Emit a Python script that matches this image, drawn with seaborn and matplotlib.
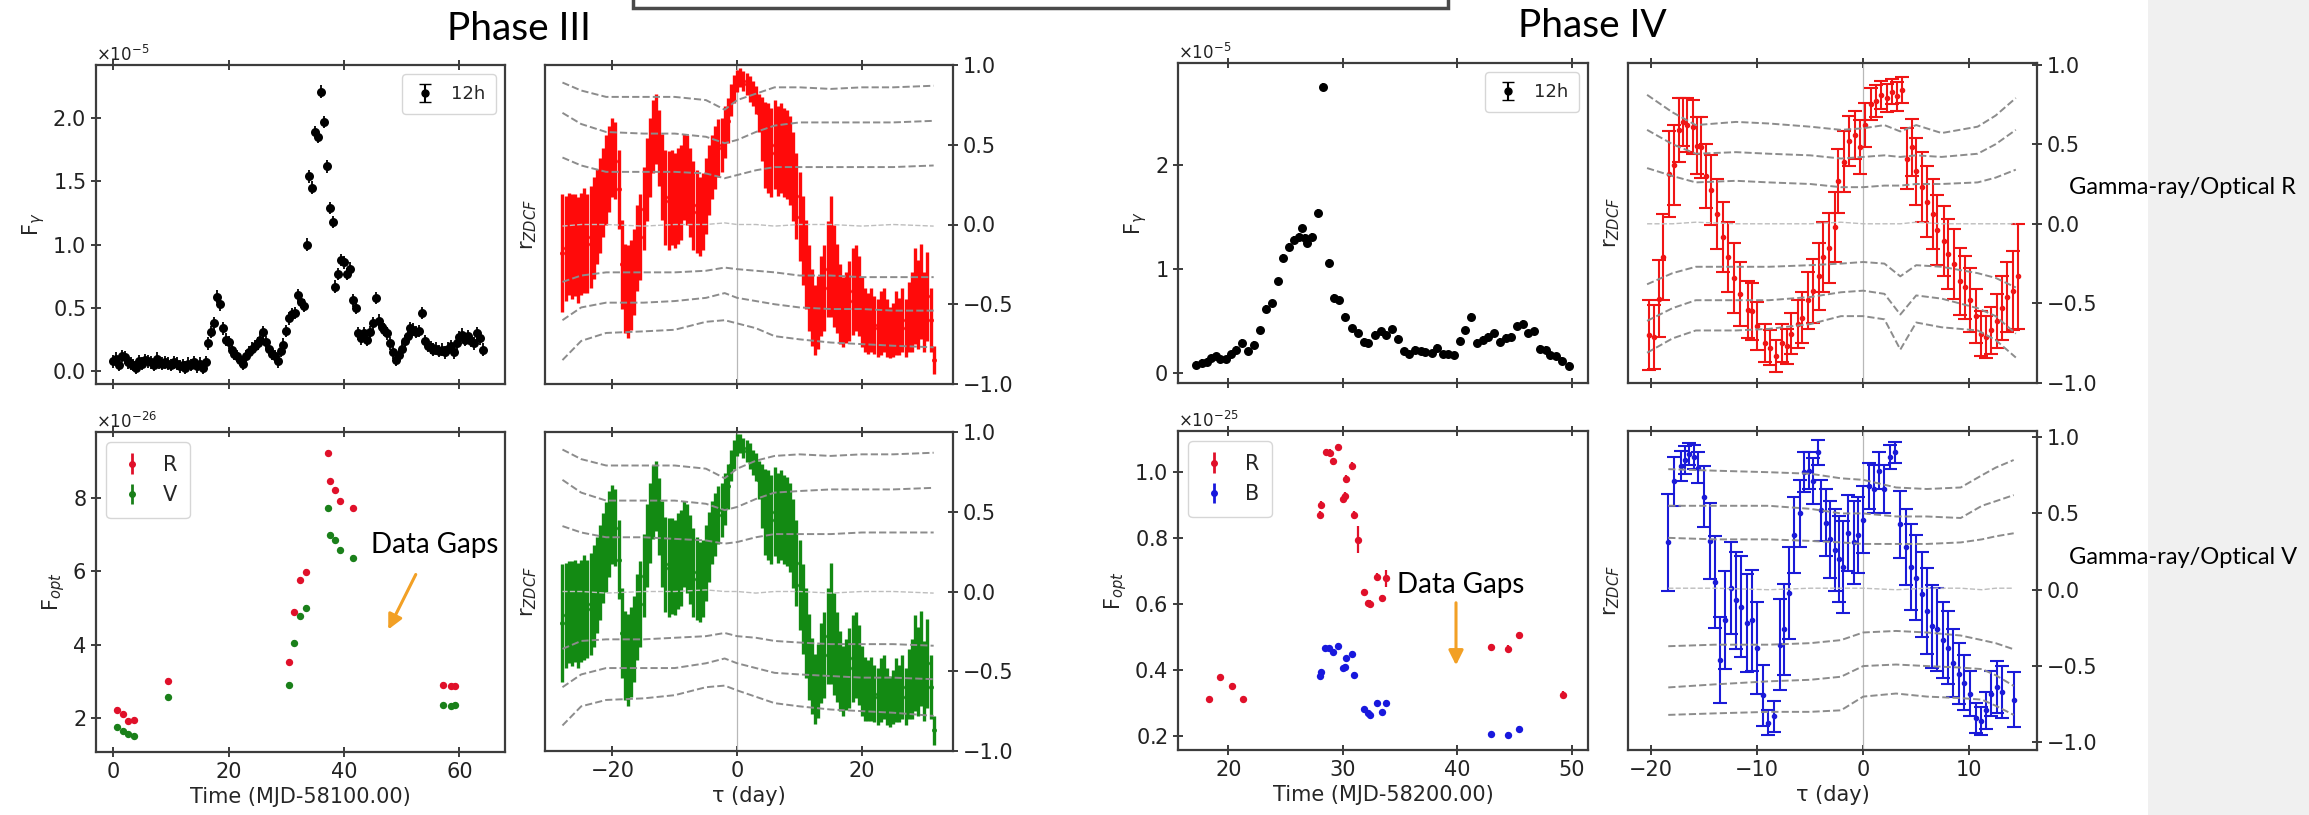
import numpy as np
import matplotlib.pyplot as plt
import seaborn as sns
from matplotlib.patches import Rectangle, FancyArrowPatch
from matplotlib.ticker import MultipleLocator, ScalarFormatter

# ---------------- Phase III : gamma-ray light curve (12h bins, x1e-5)
gam3_t = [0.0, 0.5, 1.0, 1.5, 2.0, 2.5, 3.0, 3.5, 4.0, 4.5, 5.0, 5.5, 6.0, 6.5, 7.0, 7.5,
          8.0, 8.5, 9.0, 9.5, 10.0, 10.5, 11.0, 11.5, 12.0, 12.5, 13.0, 13.5, 14.0, 14.5,
          15.0, 15.5, 16.0, 16.5, 17.0, 17.5, 18.0, 18.5, 19.0, 19.5, 20.0, 20.5, 21.0,
          21.5, 22.0, 22.5, 23.0, 23.5, 24.0, 24.5, 25.0, 25.5, 26.0, 26.5, 27.0, 27.5,
          28.0, 28.5, 29.0, 29.5, 30.0, 30.5, 31.0, 31.5, 32.0, 32.5, 33.0, 33.5, 34.0,
          34.5, 35.0, 35.5, 36.0, 36.5, 37.0, 37.5, 38.0, 38.5, 39.0, 39.5, 40.0, 40.5,
          41.0, 41.5, 42.0, 42.5, 43.0, 43.5, 44.0, 44.5, 45.0, 45.5, 46.0, 46.5, 47.0,
          47.5, 48.0, 48.5, 49.0, 49.5, 50.0, 50.5, 51.0, 51.5, 52.0, 52.5, 53.0, 53.5,
          54.0, 54.5, 55.0, 55.5, 56.0, 56.5, 57.0, 57.5, 58.0, 58.5, 59.0, 59.5, 60.0,
          60.5, 61.0, 61.5, 62.0, 62.5, 63.0, 63.5, 64.0]
gam3_f = [0.08, 0.10, 0.05, 0.12, 0.11, 0.07, 0.06, 0.05, 0.03,
          0.08, 0.06, 0.09, 0.08, 0.07, 0.05, 0.10, 0.07,
          0.06, 0.07, 0.06, 0.05, 0.07, 0.06, 0.04, 0.05,
          0.03, 0.06, 0.05, 0.07, 0.04, 0.06, 0.03, 0.07,
          0.22, 0.31, 0.38, 0.59, 0.53, 0.34, 0.25, 0.23,
          0.17, 0.14, 0.12, 0.09, 0.06, 0.12, 0.15, 0.18,
          0.20, 0.22, 0.25, 0.31, 0.23, 0.18, 0.14, 0.12,
          0.08, 0.16, 0.21, 0.32, 0.42, 0.45, 0.46, 0.60,
          0.55, 0.52, 1.00, 1.54, 1.45, 1.89, 1.85, 2.21,
          1.97, 1.62, 1.29, 1.18, 0.67, 0.77, 0.88, 0.86,
          0.77, 0.81, 0.56, 0.50, 0.30, 0.26, 0.30, 0.25,
          0.31, 0.38, 0.58, 0.40, 0.35, 0.33, 0.30, 0.22,
          0.15, 0.09, 0.13, 0.18, 0.24, 0.28, 0.34, 0.33,
          0.31, 0.32, 0.46, 0.24, 0.20, 0.19, 0.17, 0.18,
          0.16, 0.17, 0.15, 0.18, 0.20, 0.15, 0.22, 0.27,
          0.29, 0.25, 0.28, 0.24, 0.22, 0.30, 0.26, 0.17]
gam3_err = 0.05

# ---------------- Phase III : optical R and V (x1e-26)
opt3_t = [0.6, 1.6, 2.6, 3.6, 9.5, 30.4, 31.4, 32.4, 33.4, 37.2, 37.5, 38.4, 39.3, 41.5, 57.2, 58.5, 59.2]
opt3_r = [2.21, 2.12, 1.91, 1.94, 3.02, 3.52, 4.89, 5.77, 5.97, 9.23, 8.45, 8.21, 7.91, 7.73, 2.91, 2.88, 2.88]
opt3_v = [1.75, 1.64, 1.55, 1.50, 2.56, 2.89, 4.05, 4.79, 5.00, 7.73, 7.00, 6.86, 6.57, 6.36, 2.34, 2.32, 2.36]
opt3_err = 0.08

# ---------------- Phase III : ZDCF gamma / optical R and V
zdcf3_tau = [-28.0, -27.5, -27.0, -26.5, -26.0, -25.5, -25.0, -24.5, -24.0, -23.5,
             -23.0, -22.5, -22.0, -21.5, -21.0, -20.5, -20.0, -19.5, -19.0, -18.5,
             -18.0, -17.5, -17.0, -16.5, -16.0, -15.5, -15.0, -14.5, -14.0, -13.5,
             -13.0, -12.5, -12.0, -11.5, -11.0, -10.5, -10.0, -9.5, -9.0, -8.5,
             -8.0, -7.5, -7.0, -6.5, -6.0, -5.5, -5.0, -4.5, -4.0, -3.5,
             -3.0, -2.5, -2.0, -1.5, -1.0, -0.5, 0.0, 0.5, 1.0, 1.5,
             2.0, 2.5, 3.0, 3.5, 4.0, 4.5, 5.0, 5.5, 6.0, 6.5,
             7.0, 7.5, 8.0, 8.5, 9.0, 9.5, 10.0, 10.5, 11.0, 11.5,
             12.0, 12.5, 13.0, 13.5, 14.0, 14.5, 15.0, 15.5, 16.0, 16.5,
             17.0, 17.5, 18.0, 18.5, 19.0, 19.5, 20.0, 20.5, 21.0, 21.5,
             22.0, 22.5, 23.0, 23.5, 24.0, 24.5, 25.0, 25.5, 26.0, 26.5,
             27.0, 27.5, 28.0, 28.5, 29.0, 29.5, 30.0, 30.5, 31.0, 31.5]
zdcf3r_r = [-0.18, -0.15, -0.12, -0.14, -0.13, -0.16, -0.12, -0.10, -0.12, -0.08,
            -0.02, 0.05, 0.12, 0.20, 0.28, 0.35, 0.42, 0.40, 0.22, -0.25,
            -0.40, -0.42, -0.38, -0.30, -0.15, -0.08, 0.10, 0.28, 0.42, 0.55,
            0.60, 0.48, 0.30, 0.17, 0.15, 0.17, 0.15, 0.18, 0.20, 0.30,
            0.28, 0.20, 0.12, 0.08, 0.05, 0.08, 0.18, 0.28, 0.36, 0.42,
            0.48, 0.50, 0.58, 0.65, 0.78, 0.85, 0.90, 0.92, 0.90, 0.88,
            0.85, 0.82, 0.78, 0.70, 0.60, 0.50, 0.48, 0.45, 0.50, 0.46,
            0.48, 0.45, 0.44, 0.40, 0.30, 0.18, 0.05, -0.10, -0.25, -0.40,
            -0.52, -0.60, -0.55, -0.45, -0.40, -0.28, -0.20, -0.32, -0.40, -0.50,
            -0.55, -0.52, -0.48, -0.42, -0.40, -0.45, -0.55, -0.60, -0.62, -0.60,
            -0.63, -0.65, -0.62, -0.60, -0.65, -0.68, -0.66, -0.62, -0.64, -0.60,
            -0.65, -0.58, -0.55, -0.45, -0.50, -0.42, -0.55, -0.45, -0.60, -0.85]
zdcf3r_err = [0.37, 0.33, 0.32, 0.33, 0.32, 0.33, 0.32, 0.33, 0.31, 0.32,
              0.32, 0.30, 0.30, 0.28, 0.28, 0.27, 0.25, 0.24, 0.25, 0.28,
              0.28, 0.29, 0.28, 0.27, 0.27, 0.27, 0.26, 0.26, 0.25, 0.23,
              0.22, 0.24, 0.27, 0.30, 0.31, 0.30, 0.30, 0.30, 0.30, 0.27,
              0.28, 0.28, 0.28, 0.26, 0.25, 0.24, 0.24, 0.22, 0.20, 0.20,
              0.18, 0.17, 0.16, 0.14, 0.10, 0.09, 0.07, 0.06, 0.06, 0.07,
              0.08, 0.08, 0.09, 0.12, 0.20, 0.27, 0.28, 0.28, 0.28, 0.28,
              0.28, 0.28, 0.28, 0.28, 0.28, 0.27, 0.28, 0.28, 0.28, 0.27,
              0.24, 0.22, 0.23, 0.25, 0.27, 0.30, 0.38, 0.32, 0.28, 0.25,
              0.22, 0.22, 0.25, 0.27, 0.27, 0.25, 0.22, 0.20, 0.19, 0.20,
              0.18, 0.18, 0.20, 0.20, 0.18, 0.16, 0.17, 0.20, 0.18, 0.20,
              0.18, 0.22, 0.25, 0.30, 0.28, 0.30, 0.25, 0.28, 0.20, 0.09]
zdcf3v_r = [-0.20, -0.15, -0.13, -0.14, -0.12, -0.15, -0.12, -0.10, -0.11, -0.08,
            -0.03, 0.04, 0.12, 0.21, 0.28, 0.36, 0.42, 0.40, 0.20, -0.26,
            -0.40, -0.43, -0.38, -0.30, -0.16, -0.08, 0.10, 0.29, 0.43, 0.56,
            0.60, 0.47, 0.30, 0.17, 0.15, 0.16, 0.15, 0.19, 0.21, 0.30,
            0.27, 0.20, 0.12, 0.08, 0.06, 0.08, 0.18, 0.28, 0.37, 0.42,
            0.48, 0.51, 0.58, 0.66, 0.79, 0.86, 0.92, 0.93, 0.90, 0.88,
            0.85, 0.81, 0.78, 0.70, 0.60, 0.50, 0.48, 0.45, 0.50, 0.46,
            0.48, 0.45, 0.44, 0.40, 0.30, 0.18, 0.04, -0.11, -0.26, -0.41,
            -0.53, -0.61, -0.56, -0.45, -0.40, -0.28, -0.20, -0.33, -0.41, -0.50,
            -0.56, -0.52, -0.48, -0.42, -0.40, -0.46, -0.56, -0.61, -0.62, -0.61,
            -0.64, -0.66, -0.62, -0.60, -0.66, -0.69, -0.66, -0.62, -0.64, -0.60,
            -0.66, -0.58, -0.55, -0.45, -0.50, -0.42, -0.56, -0.45, -0.60, -0.87]
zdcf3v_err = zdcf3r_err

# significance levels (dashed grey curves)
sig3_tau = [-28, -25, -21, -15, -10, -5, -2, 0, 3, 6, 10, 15, 20, 25, 31.5]
sig3r_levels = [
    [0.89, 0.84, 0.80, 0.80, 0.80, 0.78, 0.72, 0.78, 0.82, 0.86, 0.86, 0.85, 0.86, 0.86, 0.87],
    [0.70, 0.63, 0.58, 0.57, 0.57, 0.55, 0.51, 0.53, 0.58, 0.62, 0.64, 0.64, 0.64, 0.64, 0.65],
    [0.42, 0.37, 0.33, 0.33, 0.33, 0.32, 0.29, 0.31, 0.34, 0.36, 0.36, 0.36, 0.36, 0.36, 0.37],
    [-0.01, 0.0, 0.0, -0.01, 0.0, 0.0, 0.01, 0.0, 0.0, -0.01, 0.0, 0.0, -0.01, 0.0, -0.01],
    [-0.36, -0.32, -0.30, -0.30, -0.30, -0.29, -0.27, -0.28, -0.29, -0.30, -0.32, -0.32, -0.33, -0.33, -0.33],
    [-0.60, -0.52, -0.49, -0.49, -0.48, -0.46, -0.43, -0.46, -0.48, -0.50, -0.52, -0.53, -0.53, -0.54, -0.54],
    [-0.85, -0.73, -0.68, -0.67, -0.66, -0.61, -0.60, -0.62, -0.65, -0.70, -0.72, -0.74, -0.75, -0.76, -0.77]]
sig3v_levels = [
    [0.89, 0.83, 0.79, 0.79, 0.79, 0.77, 0.71, 0.77, 0.82, 0.85, 0.86, 0.85, 0.86, 0.86, 0.87],
    [0.70, 0.62, 0.57, 0.57, 0.57, 0.55, 0.51, 0.53, 0.58, 0.62, 0.63, 0.64, 0.64, 0.64, 0.65],
    [0.41, 0.37, 0.34, 0.34, 0.33, 0.32, 0.30, 0.31, 0.34, 0.36, 0.36, 0.36, 0.37, 0.37, 0.37],
    [0.0, 0.0, -0.01, 0.0, 0.0, 0.01, 0.0, 0.0, -0.01, 0.0, 0.0, -0.01, 0.0, 0.0, -0.01],
    [-0.36, -0.31, -0.30, -0.30, -0.29, -0.28, -0.26, -0.28, -0.29, -0.31, -0.32, -0.33, -0.33, -0.33, -0.34],
    [-0.60, -0.52, -0.48, -0.48, -0.48, -0.45, -0.42, -0.45, -0.48, -0.51, -0.52, -0.53, -0.54, -0.54, -0.55],
    [-0.84, -0.72, -0.68, -0.67, -0.65, -0.60, -0.59, -0.62, -0.66, -0.70, -0.72, -0.74, -0.75, -0.76, -0.78]]

# ---------------- Phase IV : gamma-ray light curve (12h bins, x1e-5)
gam4_t = [17.2, 17.7, 18.1, 18.5, 18.9, 19.3, 19.8, 20.2, 20.7, 21.2, 21.7, 22.2, 22.8,
          23.3, 23.8, 24.3, 24.8, 25.3, 25.7, 26.2, 26.4, 26.7, 26.9, 27.3, 27.8, 28.3,
          28.8, 29.2, 29.7, 30.2, 30.8, 31.3, 31.8, 32.2, 32.8, 33.3, 33.8, 34.3, 34.8,
          35.3, 35.8, 36.3, 36.8, 37.2, 37.8, 38.2, 38.7, 39.2, 39.7, 40.2, 40.7, 41.2,
          41.7, 42.2, 42.7, 43.2, 43.7, 44.2, 44.7, 45.2, 45.7, 46.2, 46.7, 47.2, 47.7,
          48.1, 48.6, 49.1, 49.7]
gam4_f = [0.08, 0.10, 0.11, 0.14, 0.16, 0.13, 0.13, 0.18, 0.22, 0.29, 0.21, 0.27, 0.41,
          0.62, 0.67, 0.88, 1.11, 1.21, 1.28, 1.31, 1.39, 1.30, 1.25, 1.31, 1.54, 2.75,
          1.06, 0.72, 0.70, 0.54, 0.43, 0.38, 0.30, 0.29, 0.37, 0.40, 0.37, 0.42, 0.33,
          0.21, 0.18, 0.22, 0.21, 0.20, 0.19, 0.24, 0.18, 0.18, 0.17, 0.31, 0.41, 0.54,
          0.29, 0.32, 0.35, 0.38, 0.30, 0.34, 0.35, 0.45, 0.47, 0.38, 0.40, 0.23, 0.22,
          0.17, 0.16, 0.12, 0.07]
gam4_err = 0.035

# ---------------- Phase IV : optical R and B (x1e-25)
opt4r_t = [18.3, 19.3, 20.3, 21.3, 28.0, 28.1, 28.5, 28.9, 29.1, 29.6, 30.0, 30.2, 30.3,
           30.8, 31.0, 31.3, 31.8, 32.2, 32.4, 33.0, 33.4, 33.8, 42.9, 44.4, 45.4, 49.2]
opt4r_f = [0.311, 0.378, 0.352, 0.311, 0.871, 0.901, 1.060, 1.058, 1.032, 1.075, 0.919,
           0.926, 0.980, 1.017, 0.869, 0.795, 0.636, 0.603, 0.601, 0.683, 0.618, 0.678,
           0.470, 0.465, 0.505, 0.326]
opt4r_err = [0.008, 0.008, 0.008, 0.008, 0.01, 0.01, 0.01, 0.01, 0.01, 0.01, 0.012, 0.012,
             0.012, 0.012, 0.012, 0.04, 0.01, 0.01, 0.01, 0.01, 0.01, 0.025, 0.01, 0.01,
             0.01, 0.01]
opt4b_t = [28.0, 28.1, 28.4, 28.8, 29.1, 29.6, 30.0, 30.2, 30.3, 30.8, 31.0, 31.8, 32.2,
           32.4, 33.0, 33.4, 33.8, 42.9, 44.4, 45.4]
opt4b_f = [0.382, 0.395, 0.466, 0.466, 0.456, 0.474, 0.405, 0.410, 0.436, 0.449, 0.385,
           0.281, 0.269, 0.264, 0.301, 0.272, 0.301, 0.205, 0.203, 0.223]
opt4b_err = 0.008

# ---------------- Phase IV : ZDCF gamma / optical R
zdcf4r_tau = [-20.2, -19.7, -19.3, -18.9, -18.3, -17.9, -17.4, -17.0, -16.6, -16.1, -15.7,
              -15.3, -14.8, -14.4, -13.8, -13.2, -12.8, -12.2, -11.6, -10.9, -10.5, -10.0,
              -9.3, -8.8, -8.2, -7.7, -7.2, -6.8, -6.2, -5.8, -5.2, -4.7, -4.2, -3.8, -3.2,
              -2.7, -2.4, -1.8, -1.3, -0.8, -0.3, 0.2, 0.7, 1.2, 1.7, 2.2, 2.7, 3.2, 3.7,
              4.1, 4.6, 5.0, 5.5, 6.0, 6.6, 7.0, 7.6, 8.0, 8.6, 9.1, 9.6, 10.1, 10.6, 11.1,
              11.6, 12.1, 12.6, 13.1, 13.6, 14.1, 14.6]
zdcf4r_r = [-0.70, -0.71, -0.47, -0.21, 0.31, 0.37, 0.59, 0.64, 0.62, 0.61, 0.49,
            0.48, 0.30, 0.21, 0.06, -0.08, -0.21, -0.34, -0.44, -0.54, -0.55, -0.64,
            -0.75, -0.78, -0.83, -0.75, -0.77, -0.69, -0.63, -0.59, -0.48, -0.42, -0.33,
            -0.21, -0.15, -0.02, 0.27, 0.39, 0.52, 0.56, 0.48, 0.62, 0.75, 0.77, 0.81,
            0.79, 0.83, 0.80, 0.84, 0.41, 0.48, 0.33, 0.23, 0.14, 0.06, -0.04, -0.11,
            -0.19, -0.25, -0.36, -0.40, -0.48, -0.58, -0.69, -0.71, -0.67, -0.61, -0.53,
            -0.46, -0.42, -0.33]
zdcf4r_err = [0.22, 0.20, 0.24, 0.27, 0.27, 0.25, 0.20, 0.15, 0.17, 0.17, 0.18,
              0.19, 0.20, 0.22, 0.22, 0.22, 0.22, 0.22, 0.20, 0.18, 0.18, 0.15,
              0.12, 0.11, 0.10, 0.12, 0.11, 0.13, 0.15, 0.16, 0.18, 0.20, 0.21,
              0.22, 0.22, 0.22, 0.20, 0.19, 0.16, 0.15, 0.17, 0.14, 0.10, 0.10, 0.09,
              0.09, 0.08, 0.09, 0.08, 0.19, 0.18, 0.21, 0.22, 0.22, 0.22, 0.22, 0.22,
              0.22, 0.22, 0.21, 0.20, 0.20, 0.17, 0.14, 0.13, 0.15, 0.17, 0.20,
              0.22, 0.25, 0.33]
sig4r_tau = [-20.4, -18.0, -15.8, -12.0, -8.9, -5.0, -2.1, 0.0, 2.0, 3.5, 5.0, 7.4, 10.8, 12.5, 14.4]
sig4r_levels = [
    [0.81, 0.70, 0.62, 0.64, 0.63, 0.61, 0.59, 0.60, 0.62, 0.58, 0.62, 0.57, 0.61, 0.68, 0.79],
    [0.59, 0.50, 0.44, 0.45, 0.44, 0.43, 0.41, 0.42, 0.43, 0.42, 0.43, 0.42, 0.44, 0.50, 0.59],
    [0.35, 0.30, 0.26, 0.27, 0.26, 0.25, 0.23, 0.23, 0.24, 0.24, 0.25, 0.25, 0.26, 0.29, 0.34],
    [0.0, 0.0, 0.01, 0.0, 0.0, 0.0, 0.01, 0.0, 0.0, 0.0, 0.01, 0.0, 0.0, 0.0, 0.0],
    [-0.38, -0.31, -0.27, -0.27, -0.27, -0.26, -0.25, -0.24, -0.25, -0.33, -0.26, -0.27, -0.31, -0.34, -0.40],
    [-0.61, -0.53, -0.48, -0.48, -0.48, -0.46, -0.43, -0.42, -0.44, -0.57, -0.45, -0.47, -0.53, -0.58, -0.69],
    [-0.81, -0.72, -0.67, -0.67, -0.66, -0.63, -0.58, -0.58, -0.60, -0.79, -0.62, -0.65, -0.67, -0.73, -0.84]]

# ---------------- Phase IV : ZDCF gamma / optical B
zdcf4b_tau = [-18.4, -17.9, -17.2, -16.8, -16.4, -16.0, -15.6, -15.0, -14.5, -14.0, -13.5,
              -13.0, -12.5, -12.0, -11.5, -11.0, -10.5, -10.0, -9.5, -9.0, -8.4, -7.9,
              -7.5, -7.0, -6.5, -6.0, -5.6, -5.1, -4.7, -4.3, -4.0, -3.5, -3.1, -2.7, -2.3,
              -1.9, -1.4, -0.9, -0.5, 0.0, 0.5, 1.0, 1.5, 2.0, 2.5, 3.0, 3.5, 4.0, 4.5,
              5.0, 5.5, 6.0, 6.5, 7.0, 7.5, 8.0, 8.5, 9.0, 9.5, 10.1, 10.6, 11.1, 11.6,
              12.1, 12.6, 13.1, 14.2]
zdcf4b_r = [0.31, 0.71, 0.81, 0.85, 0.89, 0.87, 0.80, 0.61, 0.32, 0.05, -0.46,
            -0.20, 0.01, -0.07, -0.11, -0.22, -0.20, -0.38, -0.69, -0.87, -0.83, -0.36,
            -0.26, -0.02, 0.36, 0.50, 0.77, 0.78, 0.71, 0.90, 0.52, 0.44, 0.33, 0.26, 0.20,
            0.15, 0.37, 0.31, 0.36, 0.46, 0.68, 0.66, 0.78, 0.66, 0.87, 0.90, 0.43, 0.28, 0.15,
            0.08, -0.03, -0.14, -0.24, -0.26, -0.33, -0.38, -0.48, -0.55, -0.61, -0.68, -0.84,
            -0.86, -0.79, -0.68, -0.64, -0.67, -0.72]
zdcf4b_err = [0.32, 0.16, 0.10, 0.09, 0.07, 0.08, 0.10, 0.20, 0.25, 0.30, 0.28,
              0.32, 0.30, 0.32, 0.33, 0.32, 0.33, 0.30, 0.20, 0.08, 0.10, 0.30,
              0.30, 0.30, 0.25, 0.22, 0.13, 0.12, 0.15, 0.08, 0.20, 0.22, 0.25, 0.27, 0.28,
              0.30, 0.25, 0.27, 0.25, 0.22, 0.15, 0.16, 0.12, 0.16, 0.08, 0.07, 0.22, 0.25,
              0.28, 0.28, 0.28, 0.28, 0.27, 0.27, 0.25, 0.24, 0.22, 0.20, 0.18, 0.15, 0.10,
              0.09, 0.12, 0.15, 0.17, 0.17, 0.18]
sig4b_tau = [-18.4, -14.0, -8.9, -5.0, -2.1, 0.0, 3.1, 6.0, 9.2, 11.2, 12.5, 14.2]
sig4b_levels = [
    [0.79, 0.78, 0.77, 0.76, 0.73, 0.72, 0.67, 0.66, 0.67, 0.75, 0.80, 0.85],
    [0.55, 0.55, 0.55, 0.53, 0.50, 0.50, 0.48, 0.48, 0.47, 0.55, 0.58, 0.62],
    [0.34, 0.33, 0.33, 0.32, 0.31, 0.30, 0.30, 0.30, 0.31, 0.33, 0.35, 0.37],
    [0.01, 0.01, 0.0, 0.01, 0.01, 0.01, 0.0, 0.01, 0.01, 0.0, 0.01, 0.01],
    [-0.37, -0.36, -0.36, -0.35, -0.33, -0.28, -0.27, -0.28, -0.30, -0.33, -0.35, -0.39],
    [-0.64, -0.62, -0.60, -0.59, -0.57, -0.50, -0.49, -0.50, -0.51, -0.52, -0.56, -0.63],
    [-0.82, -0.81, -0.80, -0.80, -0.79, -0.70, -0.68, -0.70, -0.71, -0.72, -0.76, -0.82]]

# -------------------------------------------------------
W, H = 2309, 815
SPINE = '#3c3c3c'
ORANGE = '#f2a025'
RED_OPT, GREEN_OPT, BLUE_OPT = '#e0102a', '#1a801a', '#1818dd'

sns.set_theme(style='ticks')
plt.rcParams['font.family'] = ['DejaVu Sans']
plt.rcParams['mathtext.fontset'] = 'dejavusans'

fig = plt.figure(figsize=(W / 100, H / 100), dpi=100)
fig.patch.set_facecolor('white')


def add_ax(l, t, r, b):
    return fig.add_axes([l / W, 1 - b / H, (r - l) / W, (b - t) / H])


def style(ax, zdcf=False, xlabels=True):
    for s in ax.spines.values():
        s.set_visible(True)
        s.set_color(SPINE)
        s.set_linewidth(1.6)
    ax.tick_params(axis='both', direction='inout', length=7, width=1.4,
                   colors=SPINE, labelcolor='#222222', labelsize=15)
    ax.tick_params(axis='x', top=True, bottom=True, labelbottom=xlabels, labeltop=False)
    if zdcf:
        ax.tick_params(axis='y', left=False, right=True, labelleft=False, labelright=True)
        ax.yaxis.set_label_position('left')
        ax.set_yticks([-1.0, -0.5, 0.0, 0.5, 1.0])
    else:
        ax.tick_params(axis='y', left=True, right=False)
        fmt = ScalarFormatter(useMathText=True)
        ax.yaxis.set_major_formatter(fmt)
        ax.yaxis.get_offset_text().set_fontsize(12)


def gamma_panel(ax, t, f, err, scale):
    fe = np.array(f) * scale
    ax.errorbar(t, fe, yerr=err * scale, fmt='none', ecolor='black', elinewidth=1.3, zorder=2)
    sns.scatterplot(x=t, y=fe, ax=ax, color='black', s=42, linewidth=0, legend=False, zorder=3)
    ax.errorbar([np.nan], [np.nan], yerr=[1.0], fmt='o', color='black', ms=5,
                capsize=4, elinewidth=1.5, label='12h')
    ax.legend(loc='upper right', fontsize=13, handlelength=1.3, borderpad=0.6)
    ax.set_ylabel(r'F$_\gamma$', fontsize=15)


def optical_panel(ax, series, scale):
    for t, f, err, col, lab in series:
        fe = np.array(f) * scale
        ax.errorbar(t, fe, yerr=np.array(err) * scale, fmt='none', ecolor=col,
                    elinewidth=1.6, zorder=2)
        sns.scatterplot(x=t, y=fe, ax=ax, color=col, s=28, linewidth=0, legend=False, zorder=3)
        ax.errorbar([np.nan], [np.nan], yerr=[1.0], fmt='o', color=col, ms=4,
                    elinewidth=2, label=lab)
    ax.legend(loc='upper left', fontsize=15, handlelength=1.3, borderpad=0.6)
    ax.set_ylabel(r'F$_{opt}$', fontsize=15)


def zdcf_panel(ax, tau, r, err, sig_tau, levels, col, dense):
    ax.axvline(0, color='#b8b8b8', lw=0.9, zorder=1)
    if dense:
        ax.errorbar(tau, r, yerr=err, fmt='o', ms=2.5, color=col, ecolor=col,
                    elinewidth=2.4, capsize=0, zorder=2)
    else:
        ax.errorbar(tau, r, yerr=err, fmt='o', ms=3, color=col, ecolor=col,
                    elinewidth=1.5, capsize=5, capthick=1.5, zorder=2)
    for i, lev in enumerate(levels):
        mid = (i == 3)
        sns.lineplot(x=sig_tau, y=lev, ax=ax, color='#bdbdbd' if mid else '#8c8c8c',
                     lw=1.0 if mid else 1.4, linestyle='--', legend=False, zorder=3)
    ax.set_ylabel(r'r$_{ZDCF}$', fontsize=15)


# ---- Phase III
ax1 = add_ax(96, 65, 505, 384)
gamma_panel(ax1, gam3_t, gam3_f, gam3_err, 1e-5)
ax1.set_xlim(-3.0, 67.9)
ax1.set_ylim(-0.10e-5, 2.42e-5)
ax1.xaxis.set_major_locator(MultipleLocator(20))
ax1.yaxis.set_major_locator(MultipleLocator(0.5e-5))
style(ax1, xlabels=False)

ax2 = add_ax(96, 432, 505, 752)
optical_panel(ax2, [(opt3_t, opt3_r, [opt3_err] * len(opt3_t), RED_OPT, 'R'),
                    (opt3_t, opt3_v, [opt3_err] * len(opt3_t), GREEN_OPT, 'V')], 1e-26)
ax2.set_xlim(-3.0, 67.9)
ax2.set_ylim(1.07e-26, 9.8e-26)
ax2.xaxis.set_major_locator(MultipleLocator(20))
ax2.yaxis.set_major_locator(MultipleLocator(2e-26))
ax2.set_xlabel('Time (MJD-58100.00)', fontsize=15)
style(ax2)

ax3 = add_ax(545, 65, 953, 384)
zdcf_panel(ax3, zdcf3_tau, zdcf3r_r, zdcf3r_err, sig3_tau, sig3r_levels, '#ff0a0a', True)
ax3.set_xlim(-30.8, 34.6)
ax3.set_ylim(-1.0, 1.0)
ax3.xaxis.set_major_locator(MultipleLocator(20))
style(ax3, zdcf=True, xlabels=False)

ax4 = add_ax(545, 432, 953, 751)
zdcf_panel(ax4, zdcf3_tau, zdcf3v_r, zdcf3v_err, sig3_tau, sig3v_levels, '#138a13', True)
ax4.set_xlim(-30.8, 34.6)
ax4.set_ylim(-1.0, 1.0)
ax4.xaxis.set_major_locator(MultipleLocator(20))
ax4.set_xlabel('τ (day)', fontsize=15)
style(ax4, zdcf=True)

# ---- Phase IV
ax5 = add_ax(1178, 63, 1588, 383)
gamma_panel(ax5, gam4_t, gam4_f, gam4_err, 1e-5)
ax5.set_xlim(15.6, 51.4)
ax5.set_ylim(-0.096e-5, 2.98e-5)
ax5.xaxis.set_major_locator(MultipleLocator(10))
ax5.yaxis.set_major_locator(MultipleLocator(1e-5))
style(ax5, xlabels=False)

ax6 = add_ax(1178, 431, 1588, 750)
optical_panel(ax6, [(opt4r_t, opt4r_f, opt4r_err, RED_OPT, 'R'),
                    (opt4b_t, opt4b_f, [opt4b_err] * len(opt4b_t), BLUE_OPT, 'B')], 1e-25)
ax6.set_xlim(15.6, 51.4)
ax6.set_ylim(0.158e-25, 1.124e-25)
ax6.xaxis.set_major_locator(MultipleLocator(10))
ax6.yaxis.set_major_locator(MultipleLocator(0.2e-25))
ax6.set_xlabel('Time (MJD-58200.00)', fontsize=15)
style(ax6)

ax7 = add_ax(1628, 63, 2037, 383)
zdcf_panel(ax7, zdcf4r_tau, zdcf4r_r, zdcf4r_err, sig4r_tau, sig4r_levels, '#f01515', False)
ax7.set_xlim(-22.2, 16.4)
ax7.set_ylim(-0.99, 1.01)
ax7.xaxis.set_major_locator(MultipleLocator(10))
style(ax7, zdcf=True, xlabels=False)

ax8 = add_ax(1628, 431, 2037, 750)
zdcf_panel(ax8, zdcf4b_tau, zdcf4b_r, zdcf4b_err, sig4b_tau, sig4b_levels, '#1a1ad8', False)
ax8.set_xlim(-22.2, 16.4)
ax8.set_ylim(-1.05, 1.04)
ax8.xaxis.set_major_locator(MultipleLocator(10))
ax8.set_xlabel('τ (day)', fontsize=15)
style(ax8, zdcf=True)

# ---- decorations
fig.add_artist(Rectangle((2148 / W, 0), (W - 2148) / W, 1, transform=fig.transFigure,
                         facecolor='#f0f0f0', edgecolor='none', zorder=0))
fig.add_artist(Rectangle((633 / W, 1 - 8 / H), (1448 - 633) / W, 30 / H,
                         transform=fig.transFigure, facecolor='white',
                         edgecolor='#4a4a4a', lw=2.5, zorder=1))


def ftext(x, y, s, **kw):
    fig.text(x / W, 1 - y / H, s, family=['Lato', 'DejaVu Sans'], color='black', **kw)


ftext(519, 29, 'Phase III', fontsize=28, ha='center', va='center')
ftext(1592, 26, 'Phase IV', fontsize=28, ha='center', va='center')
ftext(435, 545, 'Data Gaps', fontsize=20, ha='center', va='center')
ftext(1461, 585, 'Data Gaps', fontsize=20, ha='center', va='center')
ftext(2069, 187, 'Gamma-ray/Optical R', fontsize=17, ha='left', va='center')
ftext(2069, 557, 'Gamma-ray/Optical V', fontsize=17, ha='left', va='center')

for (x0, y0), (x1, y1) in [((417, 572), (387, 632)), ((1456, 600), (1456, 668))]:
    fig.add_artist(FancyArrowPatch((x0 / W, 1 - y0 / H), (x1 / W, 1 - y1 / H),
                                   transform=fig.transFigure, arrowstyle='-|>',
                                   mutation_scale=22, color=ORANGE, lw=2.2))

fig.savefig('out.png', dpi=100)
